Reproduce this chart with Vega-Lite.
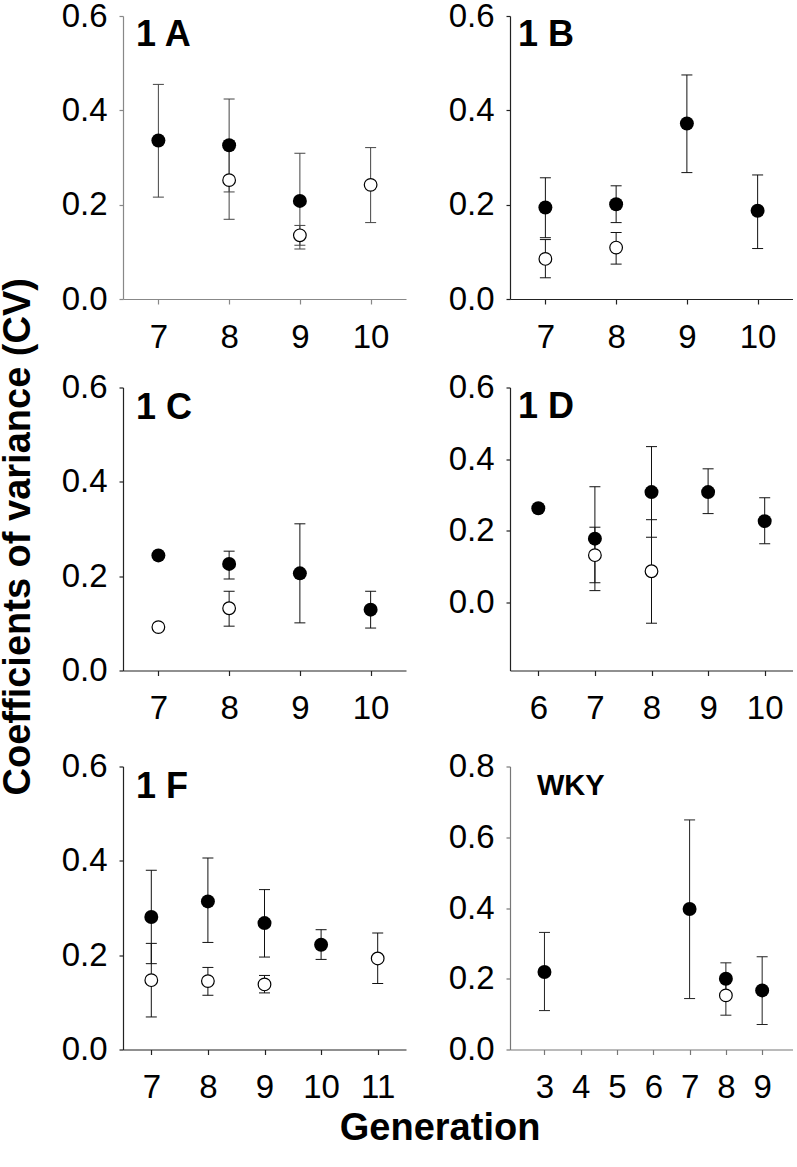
{
  "$schema": "https://vega.github.io/schema/vega-lite/v6.json",
  "padding": {"left": 0, "top": 0, "right": 0, "bottom": 0},
  "background": "white",
  "datasets": {
    "p1A": [
      {"gen": 7, "type": "filled", "cv": 0.336, "lo": 0.216, "hi": 0.455},
      {"gen": 8, "type": "filled", "cv": 0.326, "lo": 0.227, "hi": 0.424},
      {"gen": 8, "type": "open", "cv": 0.252, "lo": 0.169, "hi": 0.335},
      {"gen": 9, "type": "filled", "cv": 0.208, "lo": 0.106, "hi": 0.309},
      {"gen": 9, "type": "open", "cv": 0.135, "lo": 0.114, "hi": 0.156},
      {"gen": 10, "type": "open", "cv": 0.242, "lo": 0.162, "hi": 0.321}
    ],
    "p1B": [
      {"gen": 7, "type": "filled", "cv": 0.194, "lo": 0.130, "hi": 0.257},
      {"gen": 7, "type": "open", "cv": 0.085, "lo": 0.045, "hi": 0.126},
      {"gen": 8, "type": "filled", "cv": 0.201, "lo": 0.162, "hi": 0.240},
      {"gen": 8, "type": "open", "cv": 0.109, "lo": 0.074, "hi": 0.141},
      {"gen": 9, "type": "filled", "cv": 0.372, "lo": 0.268, "hi": 0.475},
      {"gen": 10, "type": "filled", "cv": 0.187, "lo": 0.107, "hi": 0.263}
    ],
    "p1C": [
      {"gen": 7, "type": "filled", "cv": 0.244, "lo": null, "hi": null},
      {"gen": 7, "type": "open", "cv": 0.092, "lo": null, "hi": null},
      {"gen": 8, "type": "filled", "cv": 0.226, "lo": 0.194, "hi": 0.253},
      {"gen": 8, "type": "open", "cv": 0.132, "lo": 0.094, "hi": 0.168},
      {"gen": 9, "type": "filled", "cv": 0.206, "lo": 0.101, "hi": 0.311},
      {"gen": 10, "type": "filled", "cv": 0.129, "lo": 0.090, "hi": 0.168}
    ],
    "p1D": [
      {"gen": 6, "type": "filled", "cv": 0.263, "lo": null, "hi": null},
      {"gen": 7, "type": "filled", "cv": 0.178, "lo": 0.033, "hi": 0.323},
      {"gen": 7, "type": "open", "cv": 0.132, "lo": 0.055, "hi": 0.210},
      {"gen": 8, "type": "filled", "cv": 0.308, "lo": 0.182, "hi": 0.435},
      {"gen": 8, "type": "open", "cv": 0.087, "lo": -0.058, "hi": 0.231},
      {"gen": 9, "type": "filled", "cv": 0.308, "lo": 0.248, "hi": 0.373},
      {"gen": 10, "type": "filled", "cv": 0.227, "lo": 0.164, "hi": 0.292}
    ],
    "p1F": [
      {"gen": 7, "type": "filled", "cv": 0.281, "lo": 0.182, "hi": 0.380},
      {"gen": 7, "type": "open", "cv": 0.147, "lo": 0.069, "hi": 0.225},
      {"gen": 8, "type": "filled", "cv": 0.314, "lo": 0.227, "hi": 0.406},
      {"gen": 8, "type": "open", "cv": 0.145, "lo": 0.115, "hi": 0.174},
      {"gen": 9, "type": "filled", "cv": 0.268, "lo": 0.196, "hi": 0.339},
      {"gen": 9, "type": "open", "cv": 0.138, "lo": 0.120, "hi": 0.157},
      {"gen": 10, "type": "filled", "cv": 0.222, "lo": 0.191, "hi": 0.254},
      {"gen": 11, "type": "open", "cv": 0.193, "lo": 0.140, "hi": 0.247}
    ],
    "pWKY": [
      {"gen": 3, "type": "filled", "cv": 0.219, "lo": 0.110, "hi": 0.331},
      {"gen": 7, "type": "filled", "cv": 0.397, "lo": 0.144, "hi": 0.649},
      {"gen": 8, "type": "filled", "cv": 0.200, "lo": 0.155, "hi": 0.245},
      {"gen": 8, "type": "open", "cv": 0.153, "lo": 0.097, "hi": 0.209},
      {"gen": 9, "type": "filled", "cv": 0.167, "lo": 0.071, "hi": 0.262}
    ]
  },
  "title": {
    "text": "Coefficients of variance (CV)",
    "orient": "left",
    "anchor": "middle",
    "frame": "bounds",
    "offset": -7,
    "dx": 37,
    "baseline": "alphabetic",
    "font": "Liberation Sans",
    "fontSize": 38,
    "fontWeight": "bold",
    "color": "black"
  },
  "spacing": 24.5,
  "vconcat": [
    {
      "spacing": 17.5,
      "vconcat": [
        {
          "spacing": 104,
          "bounds": "flush",
          "hconcat": [
            {
              "width": 283, "height": 283,
              "data": {"name": "p1A"},
              "title": {"text": "1 A", "orient": "top", "anchor": "start", "frame": "group", "offset": -82, "dx": 13, "baseline": "alphabetic", "font": "Liberation Sans", "fontSize": 36, "fontWeight": "bold", "color": "black"},
              "encoding": {"x": {"field": "gen", "type": "quantitative", "title": null, "scale": {"domain": [6.5, 10.5], "nice": false, "zero": false}, "axis": {"values": [7, 8, 9, 10], "domainColor": "#888", "tickColor": "#888"}}},
              "layer": [
                {"transform": [{"filter": "isValid(datum.lo)"}], "mark": {"type": "rule", "color": "#444", "strokeWidth": 1}, "encoding": {"y": {"field": "lo", "type": "quantitative", "title": null, "scale": {"domain": [0, 0.6], "nice": false, "zero": false}, "axis": {"values": [0, 0.2, 0.4, 0.6], "format": ".1f", "domainColor": "#888", "tickColor": "#888"}}, "y2": {"field": "hi"}}},
                {"transform": [{"filter": "isValid(datum.lo)"}], "mark": {"type": "tick", "orient": "horizontal", "size": 11, "thickness": 1, "color": "#444", "opacity": 1}, "encoding": {"y": {"field": "lo", "type": "quantitative", "title": null}}},
                {"transform": [{"filter": "isValid(datum.hi)"}], "mark": {"type": "tick", "orient": "horizontal", "size": 11, "thickness": 1, "color": "#444", "opacity": 1}, "encoding": {"y": {"field": "hi", "type": "quantitative", "title": null}}},
                {"transform": [{"filter": "datum.type == 'open'"}], "mark": {"type": "point", "shape": "circle", "filled": true, "fill": "white", "stroke": "black", "strokeWidth": 1.2, "size": 160, "opacity": 1}, "encoding": {"y": {"field": "cv", "type": "quantitative", "title": null}}},
                {"transform": [{"filter": "datum.type == 'filled'"}], "mark": {"type": "point", "shape": "circle", "filled": true, "fill": "black", "stroke": null, "size": 195, "opacity": 1}, "encoding": {"y": {"field": "cv", "type": "quantitative", "title": null}}}
              ]
            },
            {
              "width": 283, "height": 283,
              "data": {"name": "p1B"},
              "title": {"text": "1 B", "orient": "top", "anchor": "start", "frame": "group", "offset": -82, "dx": 8, "baseline": "alphabetic", "font": "Liberation Sans", "fontSize": 36, "fontWeight": "bold", "color": "black"},
              "encoding": {"x": {"field": "gen", "type": "quantitative", "title": null, "scale": {"domain": [6.5, 10.5], "nice": false, "zero": false}, "axis": {"values": [7, 8, 9, 10]}}},
              "layer": [
                {"transform": [{"filter": "isValid(datum.lo)"}], "mark": {"type": "rule", "color": "#111", "strokeWidth": 1}, "encoding": {"y": {"field": "lo", "type": "quantitative", "title": null, "scale": {"domain": [0, 0.6], "nice": false, "zero": false}, "axis": {"values": [0, 0.2, 0.4, 0.6], "format": ".1f"}}, "y2": {"field": "hi"}}},
                {"transform": [{"filter": "isValid(datum.lo)"}], "mark": {"type": "tick", "orient": "horizontal", "size": 11, "thickness": 1, "color": "#111", "opacity": 1}, "encoding": {"y": {"field": "lo", "type": "quantitative", "title": null}}},
                {"transform": [{"filter": "isValid(datum.hi)"}], "mark": {"type": "tick", "orient": "horizontal", "size": 11, "thickness": 1, "color": "#111", "opacity": 1}, "encoding": {"y": {"field": "hi", "type": "quantitative", "title": null}}},
                {"transform": [{"filter": "datum.type == 'open'"}], "mark": {"type": "point", "shape": "circle", "filled": true, "fill": "white", "stroke": "black", "strokeWidth": 1.2, "size": 160, "opacity": 1}, "encoding": {"y": {"field": "cv", "type": "quantitative", "title": null}}},
                {"transform": [{"filter": "datum.type == 'filled'"}], "mark": {"type": "point", "shape": "circle", "filled": true, "fill": "black", "stroke": null, "size": 195, "opacity": 1}, "encoding": {"y": {"field": "cv", "type": "quantitative", "title": null}}}
              ]
            }
          ]
        },
        {
          "spacing": 104,
          "bounds": "flush",
          "hconcat": [
            {
              "width": 283, "height": 283,
              "data": {"name": "p1C"},
              "title": {"text": "1 C", "orient": "top", "anchor": "start", "frame": "group", "offset": -83, "dx": 13, "baseline": "alphabetic", "font": "Liberation Sans", "fontSize": 36, "fontWeight": "bold", "color": "black"},
              "encoding": {"x": {"field": "gen", "type": "quantitative", "title": null, "scale": {"domain": [6.5, 10.5], "nice": false, "zero": false}, "axis": {"values": [7, 8, 9, 10]}}},
              "layer": [
                {"transform": [{"filter": "isValid(datum.lo)"}], "mark": {"type": "rule", "color": "#111", "strokeWidth": 1}, "encoding": {"y": {"field": "lo", "type": "quantitative", "title": null, "scale": {"domain": [0, 0.6], "nice": false, "zero": false}, "axis": {"values": [0, 0.2, 0.4, 0.6], "format": ".1f"}}, "y2": {"field": "hi"}}},
                {"transform": [{"filter": "isValid(datum.lo)"}], "mark": {"type": "tick", "orient": "horizontal", "size": 11, "thickness": 1, "color": "#111", "opacity": 1}, "encoding": {"y": {"field": "lo", "type": "quantitative", "title": null}}},
                {"transform": [{"filter": "isValid(datum.hi)"}], "mark": {"type": "tick", "orient": "horizontal", "size": 11, "thickness": 1, "color": "#111", "opacity": 1}, "encoding": {"y": {"field": "hi", "type": "quantitative", "title": null}}},
                {"transform": [{"filter": "datum.type == 'open'"}], "mark": {"type": "point", "shape": "circle", "filled": true, "fill": "white", "stroke": "black", "strokeWidth": 1.2, "size": 160, "opacity": 1}, "encoding": {"y": {"field": "cv", "type": "quantitative", "title": null}}},
                {"transform": [{"filter": "datum.type == 'filled'"}], "mark": {"type": "point", "shape": "circle", "filled": true, "fill": "black", "stroke": null, "size": 195, "opacity": 1}, "encoding": {"y": {"field": "cv", "type": "quantitative", "title": null}}}
              ]
            },
            {
              "width": 283, "height": 283,
              "data": {"name": "p1D"},
              "title": {"text": "1 D", "orient": "top", "anchor": "start", "frame": "group", "offset": -82, "dx": 8, "baseline": "alphabetic", "font": "Liberation Sans", "fontSize": 36, "fontWeight": "bold", "color": "black"},
              "encoding": {"x": {"field": "gen", "type": "quantitative", "title": null, "scale": {"domain": [5.5, 10.5], "nice": false, "zero": false}, "axis": {"values": [6, 7, 8, 9, 10]}}},
              "layer": [
                {"transform": [{"filter": "isValid(datum.lo)"}], "mark": {"type": "rule", "color": "#111", "strokeWidth": 1}, "encoding": {"y": {"field": "lo", "type": "quantitative", "title": null, "scale": {"domain": [-0.19, 0.6], "nice": false, "zero": false}, "axis": {"values": [0, 0.2, 0.4, 0.6], "format": ".1f"}}, "y2": {"field": "hi"}}},
                {"transform": [{"filter": "isValid(datum.lo)"}], "mark": {"type": "tick", "orient": "horizontal", "size": 11, "thickness": 1, "color": "#111", "opacity": 1}, "encoding": {"y": {"field": "lo", "type": "quantitative", "title": null}}},
                {"transform": [{"filter": "isValid(datum.hi)"}], "mark": {"type": "tick", "orient": "horizontal", "size": 11, "thickness": 1, "color": "#111", "opacity": 1}, "encoding": {"y": {"field": "hi", "type": "quantitative", "title": null}}},
                {"transform": [{"filter": "datum.type == 'open'"}], "mark": {"type": "point", "shape": "circle", "filled": true, "fill": "white", "stroke": "black", "strokeWidth": 1.2, "size": 160, "opacity": 1}, "encoding": {"y": {"field": "cv", "type": "quantitative", "title": null}}},
                {"transform": [{"filter": "datum.type == 'filled'"}], "mark": {"type": "point", "shape": "circle", "filled": true, "fill": "black", "stroke": null, "size": 195, "opacity": 1}, "encoding": {"y": {"field": "cv", "type": "quantitative", "title": null}}}
              ]
            }
          ]
        }
      ]
    },
    {
      "spacing": 104,
      "bounds": "flush",
      "title": {"text": "Generation", "orient": "bottom", "anchor": "middle", "frame": "bounds", "offset": 35, "dx": 13, "baseline": "alphabetic", "font": "Liberation Sans", "fontSize": 38, "fontWeight": "bold", "color": "black"},
      "hconcat": [
        {
          "width": 283, "height": 283,
          "data": {"name": "p1F"},
          "title": {"text": "1 F", "orient": "top", "anchor": "start", "frame": "group", "offset": -83, "dx": 13, "baseline": "alphabetic", "font": "Liberation Sans", "fontSize": 36, "fontWeight": "bold", "color": "black"},
          "encoding": {"x": {"field": "gen", "type": "quantitative", "title": null, "scale": {"domain": [6.5, 11.5], "nice": false, "zero": false}, "axis": {"values": [7, 8, 9, 10, 11]}}},
          "layer": [
            {"transform": [{"filter": "isValid(datum.lo)"}], "mark": {"type": "rule", "color": "#111", "strokeWidth": 1}, "encoding": {"y": {"field": "lo", "type": "quantitative", "title": null, "scale": {"domain": [0, 0.6], "nice": false, "zero": false}, "axis": {"values": [0, 0.2, 0.4, 0.6], "format": ".1f"}}, "y2": {"field": "hi"}}},
            {"transform": [{"filter": "isValid(datum.lo)"}], "mark": {"type": "tick", "orient": "horizontal", "size": 11, "thickness": 1, "color": "#111", "opacity": 1}, "encoding": {"y": {"field": "lo", "type": "quantitative", "title": null}}},
            {"transform": [{"filter": "isValid(datum.hi)"}], "mark": {"type": "tick", "orient": "horizontal", "size": 11, "thickness": 1, "color": "#111", "opacity": 1}, "encoding": {"y": {"field": "hi", "type": "quantitative", "title": null}}},
            {"transform": [{"filter": "datum.type == 'open'"}], "mark": {"type": "point", "shape": "circle", "filled": true, "fill": "white", "stroke": "black", "strokeWidth": 1.2, "size": 160, "opacity": 1}, "encoding": {"y": {"field": "cv", "type": "quantitative", "title": null}}},
            {"transform": [{"filter": "datum.type == 'filled'"}], "mark": {"type": "point", "shape": "circle", "filled": true, "fill": "black", "stroke": null, "size": 195, "opacity": 1}, "encoding": {"y": {"field": "cv", "type": "quantitative", "title": null}}}
          ]
        },
        {
          "width": 283, "height": 283,
          "data": {"name": "pWKY"},
          "title": {"text": "WKY", "orient": "top", "anchor": "start", "frame": "group", "offset": -73, "dx": 27, "baseline": "alphabetic", "font": "Liberation Sans", "fontSize": 29, "fontWeight": "bold", "color": "black"},
          "encoding": {"x": {"field": "gen", "type": "quantitative", "title": null, "scale": {"domain": [2.05, 9.85], "nice": false, "zero": false}, "axis": {"values": [3, 4, 5, 6, 7, 8, 9], "domainColor": "#777", "tickColor": "#777"}}},
          "layer": [
            {"transform": [{"filter": "isValid(datum.lo)"}], "mark": {"type": "rule", "color": "#222", "strokeWidth": 1}, "encoding": {"y": {"field": "lo", "type": "quantitative", "title": null, "scale": {"domain": [0, 0.8], "nice": false, "zero": false}, "axis": {"values": [0, 0.2, 0.4, 0.6, 0.8], "format": ".1f", "domainColor": "#777", "tickColor": "#777"}}, "y2": {"field": "hi"}}},
            {"transform": [{"filter": "isValid(datum.lo)"}], "mark": {"type": "tick", "orient": "horizontal", "size": 11, "thickness": 1, "color": "#222", "opacity": 1}, "encoding": {"y": {"field": "lo", "type": "quantitative", "title": null}}},
            {"transform": [{"filter": "isValid(datum.hi)"}], "mark": {"type": "tick", "orient": "horizontal", "size": 11, "thickness": 1, "color": "#222", "opacity": 1}, "encoding": {"y": {"field": "hi", "type": "quantitative", "title": null}}},
            {"transform": [{"filter": "datum.type == 'open'"}], "mark": {"type": "point", "shape": "circle", "filled": true, "fill": "white", "stroke": "black", "strokeWidth": 1.2, "size": 160, "opacity": 1}, "encoding": {"y": {"field": "cv", "type": "quantitative", "title": null}}},
            {"transform": [{"filter": "datum.type == 'filled'"}], "mark": {"type": "point", "shape": "circle", "filled": true, "fill": "black", "stroke": null, "size": 195, "opacity": 1}, "encoding": {"y": {"field": "cv", "type": "quantitative", "title": null}}}
          ]
        }
      ]
    }
  ],
  "config": {
    "view": {"stroke": null},
    "axis": {"grid": false, "labelFont": "Liberation Sans", "labelFontSize": 33, "labelColor": "black", "domainColor": "#222", "tickColor": "#222", "domainWidth": 1.2, "tickWidth": 1.2, "labelFlush": false, "labelOverlap": false},
    "axisX": {"tickSize": 5, "labelPadding": 17},
    "axisY": {"tickSize": 4, "labelPadding": 12}
  }
}
